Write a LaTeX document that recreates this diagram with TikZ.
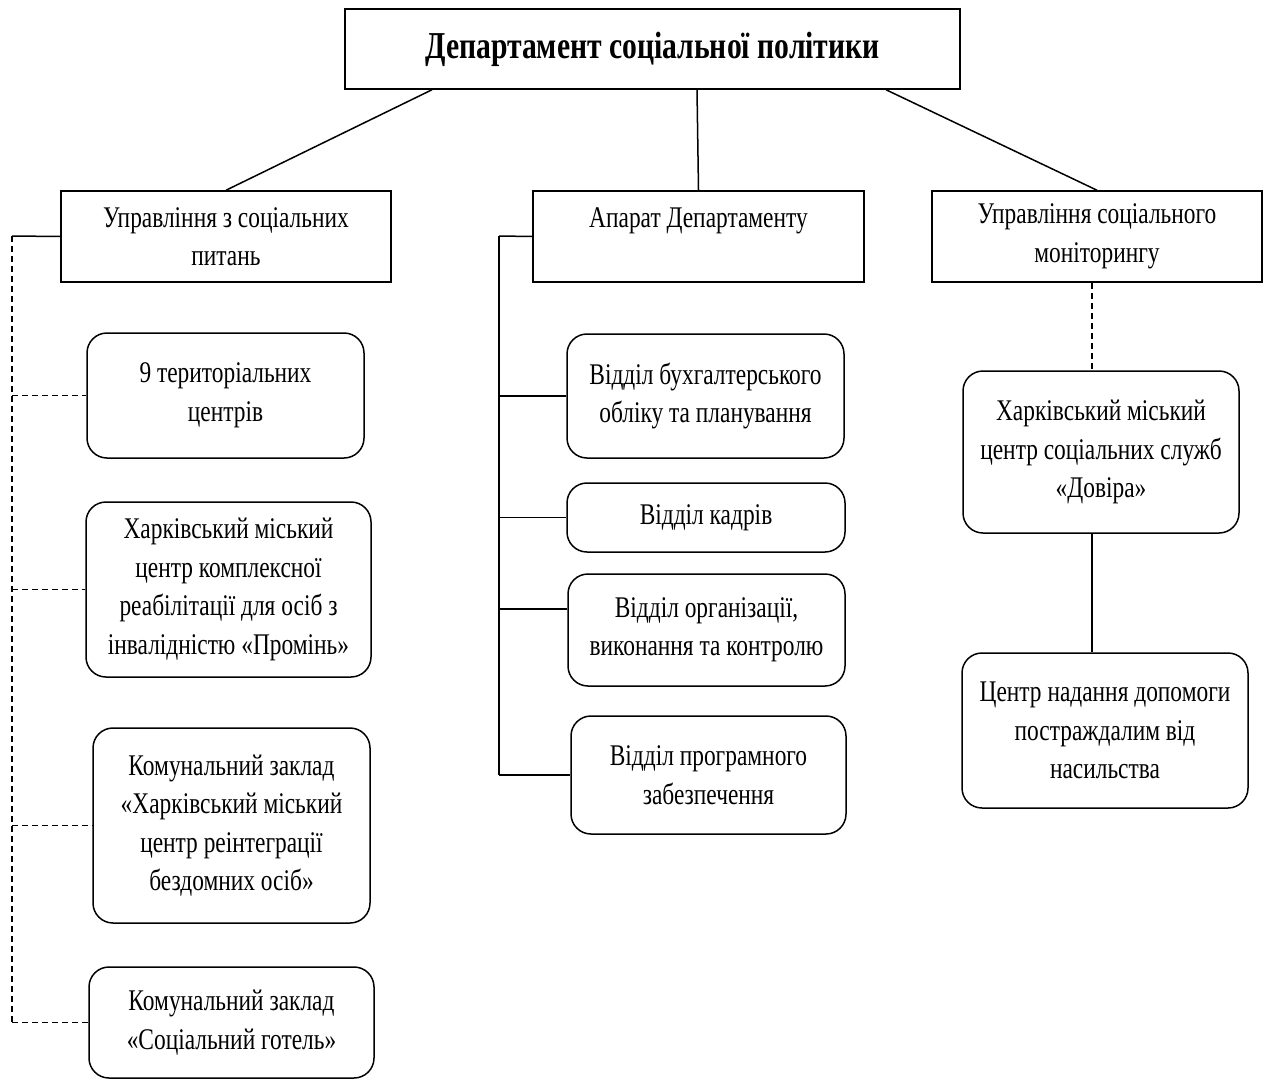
\documentclass[tikz,border=0pt]{standalone}
\usepackage{fontspec}
\setmainfont{Liberation Serif}[FakeStretch=0.78]

\begin{document}
\begin{tikzpicture}[x=1pt, y=-1pt, line width=1.5pt,
    font=\fontsize{30}{38.5}\selectfont,
    unit/.style={draw, align=center, inner sep=0pt},
    dept/.style={unit, rounded corners=20pt},
    link/.style={dash pattern=on 6pt off 4pt}]
\useasboundingbox (0,0) rectangle (1265,1081);
% top level
\node[unit, minimum width=615pt, minimum height=80pt,
    font=\fontsize{38}{44}\selectfont\bfseries] (dep) at (652.5,49) {Департамент соціальної політики};
%
\node[unit, minimum width=330pt, minimum height=91pt] (upr soc) at (226,236.5) {Управління з соціальних\\питань};
\node[unit, minimum width=331pt, minimum height=91pt] (aparat) at (698.5,236.5) {Апарат Департаменту\\\mbox{}};
\node[unit, minimum width=330pt, minimum height=91pt] (upr mon) at (1097,236.5) {Управління соціального\\моніторингу};
\draw ([xshift=-220.5pt]dep.south) -- (upr soc.north);
\draw ([xshift=44.5pt]dep.south) -- (aparat.north);
\draw ([xshift=233.5pt]dep.south) -- (upr mon.north);
%
% left column
\node[dept, minimum width=277pt, minimum height=125pt] (ter) at (225.5,395.5) {9 територіальних\\центрів};
\node[dept, minimum width=285pt, minimum height=175pt] (promin) at (228.5,589.5) {Харківський міський\\центр комплексної\\реабілітації для осіб з\\інвалідністю «Промінь»};
\node[dept, minimum width=277pt, minimum height=195pt] (reint) at (231.5,825.5) {Комунальний заклад\\«Харківський міський\\центр реінтеграції\\бездомних осіб»};
\node[dept, minimum width=285pt, minimum height=111pt] (gotel) at (231.5,1022.5) {Комунальний заклад\\«Соціальний готель»};
\coordinate (lbus) at (12,236);
\draw (lbus) -- (upr soc.west);
\draw[link] (lbus) -- (lbus |- gotel.west);
\foreach \n in {ter, promin, reint, gotel}
    \draw[link] (lbus |- \n.west) -- (\n.west);
%
% middle column
\node[dept, minimum width=277pt, minimum height=124pt] (buh) at (705.5,396) {Відділ бухгалтерського\\обліку та планування};
\node[dept, minimum width=278pt, minimum height=69pt] (kadr) at (706,517.5) {Відділ кадрів};
\node[dept, minimum width=277pt, minimum height=112pt] (org) at (706.5,630) {Відділ організації,\\виконання та контролю};
\node[dept, minimum width=275pt, minimum height=118pt] (prog) at (708.5,775) {Відділ програмного\\забезпечення};
\coordinate (mbus) at (499,236);
\draw (mbus) -- (aparat.west);
\draw (mbus) -- (mbus |- prog.west);
\foreach \n in {buh, kadr, prog}
    \draw (mbus |- \n.west) -- (\n.west);
\draw (mbus |- 0,609) -- (org.west |- 0,609);
%
% right column
\node[dept, minimum width=276pt, minimum height=162pt] (dovira) at (1101,452) {Харківський міський\\центр соціальних служб\\«Довіра»};
\node[dept, minimum width=286pt, minimum height=155pt] (nasil) at (1105,730.5) {Центр надання допомоги\\постраждалим від\\насильства};
\coordinate (rbus) at (1092,0);
\draw[link] (rbus |- upr mon.south) -- (rbus |- dovira.north);
\draw (rbus |- dovira.south) -- (rbus |- nasil.north);
\end{tikzpicture}
\end{document}
